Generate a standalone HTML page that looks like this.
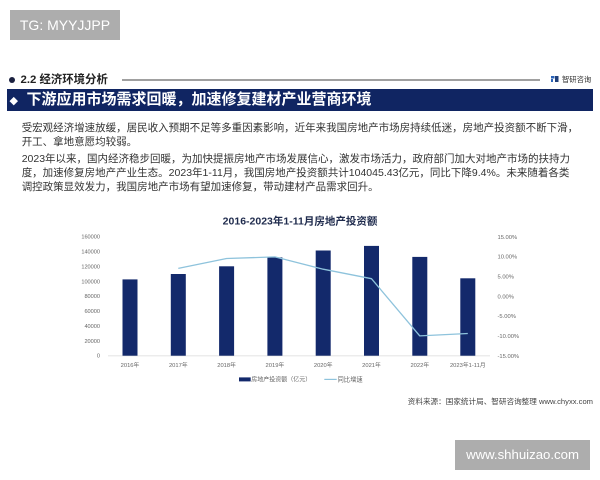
<!DOCTYPE html>
<html>
<head>
<meta charset="utf-8">
<style>
  html,body{margin:0;padding:0;background:#fff;}
  body{width:600px;height:480px;position:relative;overflow:hidden;font-family:"Liberation Sans","Noto Sans CJK SC",sans-serif;}
  .abs{position:absolute;}
  .tg{left:10px;top:10px;width:110px;height:30px;background:#adadad;color:#fff;font-size:14px;line-height:30px;text-align:center;}
  .hdr{left:20.5px;top:72px;font-size:11.4px;font-weight:bold;color:#222;line-height:16px;white-space:nowrap;}
  .dot{left:8.5px;top:77px;width:6px;height:6px;border-radius:50%;background:#1b2140;}
  .hline{left:122px;top:79.3px;width:418px;height:1.5px;background:#a0a0a0;}
  .logotx{left:562px;top:75px;font-size:7.3px;color:#333;line-height:10px;white-space:nowrap;}
  .bar{left:7.3px;top:89.3px;width:585.4px;height:21.4px;background:#102562;}
  .dia{left:10.5px;top:97.5px;width:5.5px;height:5.5px;background:#fff;transform:rotate(45deg);}
  .ttl{left:26.5px;top:89.3px;font-size:15px;font-weight:bold;color:#fff;line-height:21.4px;white-space:nowrap;}
  .p{left:21.7px;font-size:10.5px;line-height:14px;color:#333;white-space:nowrap;}
  .wm{left:455px;top:440px;width:135px;height:30px;background:#adadad;color:#fff;font-size:13.2px;line-height:30px;text-align:center;}
  svg{position:absolute;left:0;top:0;}
</style>
</head>
<body>
<div class="abs tg">TG: MYYJJPP</div>

<div class="abs dot"></div>
<div class="abs hdr">2.2 经济环境分析</div>
<div class="abs hline"></div>
<div class="abs logotx">智研咨询</div>

<div class="abs bar"></div>
<div class="abs dia"></div>
<div class="abs ttl">下游应用市场需求回暖，加速修复建材产业营商环境</div>

<div class="abs p" style="top:121.3px;">受宏观经济增速放缓，居民收入预期不足等多重因素影响，近年来我国房地产市场房持续低迷，房地产投资额不断下滑，<br>开工、拿地意愿均较弱。</div>
<div class="abs p" style="top:152px;">2023年以来，国内经济稳步回暖，为加快提振房地产市场发展信心，激发市场活力，政府部门加大对地产市场的扶持力<br>度，加速修复房地产产业生态。2023年1-11月，我国房地产投资额共计104045.43亿元，同比下降9.4%。未来随着各类<br>调控政策显效发力，我国房地产市场有望加速修复，带动建材产品需求回升。</div>

<svg width="600" height="480" viewBox="0 0 600 480" font-family="Liberation Sans, Noto Sans CJK SC, sans-serif">
  <!-- logo icon -->
  <rect x="551" y="76" width="3.5" height="2.5" fill="#2a63b8"/>
  <rect x="551" y="79" width="2" height="3" fill="#2a63b8"/>
  <rect x="555" y="76" width="3.5" height="6" fill="#1f3f7a"/>

  <text x="300" y="224.4" text-anchor="middle" font-size="10.5" font-weight="bold" fill="#1f2b4d">2016-2023年1-11月房地产投资额</text>

  <!-- left axis labels -->
  <g font-size="5.6" fill="#666" text-anchor="end">
    <text x="100" y="357.7">0</text>
    <text x="100" y="342.8">20000</text>
    <text x="100" y="327.9">40000</text>
    <text x="100" y="313.1">60000</text>
    <text x="100" y="298.2">80000</text>
    <text x="100" y="283.3">100000</text>
    <text x="100" y="268.4">120000</text>
    <text x="100" y="253.6">140000</text>
    <text x="100" y="238.7">160000</text>
  </g>
  <!-- right axis labels -->
  <g font-size="5.8" fill="#666">
    <text x="497.5" y="238.8">15.00%</text>
    <text x="497.5" y="258.6">10.00%</text>
    <text x="497.5" y="278.5">5.00%</text>
    <text x="497.5" y="298.3">0.00%</text>
    <text x="497.5" y="318.1">-5.00%</text>
    <text x="497.5" y="338.0">-10.00%</text>
    <text x="497.5" y="357.8">-15.00%</text>
  </g>

  <!-- baseline -->
  <line x1="108" y1="355.9" x2="490" y2="355.9" stroke="#d9d9d9" stroke-width="0.8"/>

  <!-- bars -->
  <g fill="#13296b">
    <rect x="122.5" y="279.4" width="15" height="76.3"/>
    <rect x="170.8" y="274.0" width="15" height="81.7"/>
    <rect x="219.1" y="266.3" width="15" height="89.4"/>
    <rect x="267.4" y="257.4" width="15" height="98.3"/>
    <rect x="315.7" y="250.5" width="15" height="105.2"/>
    <rect x="364.0" y="245.9" width="15" height="109.8"/>
    <rect x="412.3" y="256.9" width="15" height="98.8"/>
    <rect x="460.3" y="278.3" width="15" height="77.4"/>
  </g>

  <!-- line -->
  <polyline fill="none" stroke="#8ec3dc" stroke-width="1.3" stroke-linejoin="round"
    points="178.3,268.4 226.6,258.5 274.9,256.9 323.2,269.2 371.5,278.7 419.8,335.9 467.8,333.5"/>

  <!-- x labels -->
  <g font-size="5.8" fill="#666" text-anchor="middle">
    <text x="130" y="367">2016年</text>
    <text x="178.3" y="367">2017年</text>
    <text x="226.6" y="367">2018年</text>
    <text x="274.9" y="367">2019年</text>
    <text x="323.2" y="367">2020年</text>
    <text x="371.5" y="367">2021年</text>
    <text x="419.8" y="367">2022年</text>
    <text x="467.8" y="367">2023年1-11月</text>
  </g>

  <!-- legend -->
  <rect x="239" y="377.4" width="11.7" height="4" fill="#13296b"/>
  <text x="251.3" y="381.4" font-size="6" fill="#666">房地产投资额（亿元）</text>
  <line x1="324.3" y1="379.4" x2="336.7" y2="379.4" stroke="#8ec3dc" stroke-width="1.2"/>
  <text x="337.5" y="381.4" font-size="6.3" fill="#666">同比增速</text>

  <!-- source -->
  <text x="593" y="403.8" text-anchor="end" font-size="7.6" fill="#444">资料来源：国家统计局、智研咨询整理 www.chyxx.com</text>
</svg>

<div class="abs wm">www.shhuizao.com</div>
</body>
</html>
